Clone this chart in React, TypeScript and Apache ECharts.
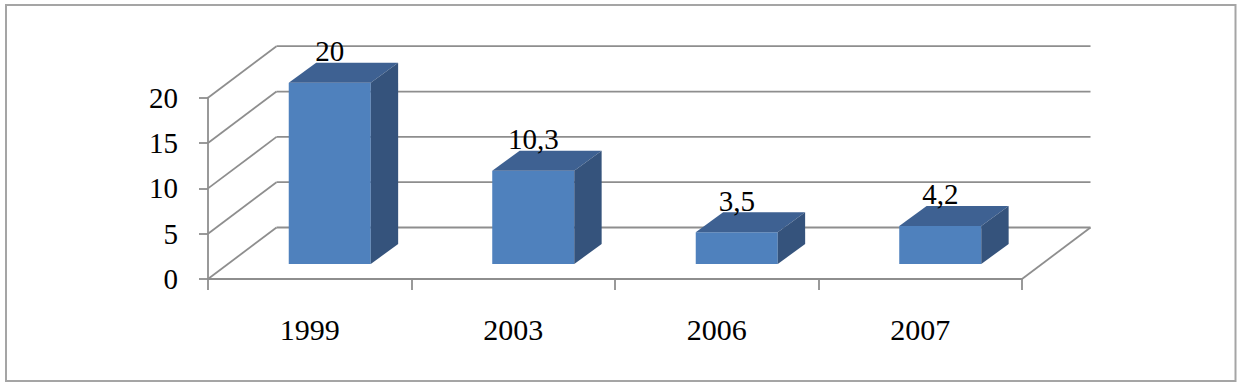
import React, { useEffect, useRef } from "react";
import * as echarts from "echarts";

const categories = ["1999", "2003", "2006", "2007"];
const values = [20, 10.3, 3.5, 4.2];
const yTicks = [0, 5, 10, 15, 20];

const FONT = "'Liberation Serif', 'DejaVu Serif', serif";
const GRID_COLOR = "#8e8e8e";
// 3D projection offsets (pixels)
const WALL_DX = 68.5;
const WALL_DY = -51.5;
const BAR_FRONT_DX = 20;
const BAR_FRONT_DY = -15;
const BAR_DEPTH_DX = 27.4;
const BAR_DEPTH_DY = -20;
const BAR_RATIO = 0.403;

const fmt = (v: number) => String(v).replace(".", ",");

export default function App() {
  const ref = useRef<HTMLDivElement>(null);
  useEffect(() => {
    if (!ref.current) return;
    const chart = echarts.init(ref.current, null, { renderer: "svg" });
    const option: any = {
      animation: false,
      backgroundColor: "#ffffff",
      grid: {
        left: 208,
        right: 222,
        top: 97.7,
        bottom: 110,
        containLabel: false,
        outerBoundsMode: "none",
      },
      graphic: [
        {
          type: "rect",
          shape: { x: 6, y: 5, width: 1229.5, height: 376 },
          style: { fill: "none", stroke: "#a5a5a5", lineWidth: 2 },
          silent: true,
          z: 0,
        },
      ],
      xAxis: {
        type: "category",
        data: categories,
        axisLine: { show: true, lineStyle: { color: GRID_COLOR, width: 1.8 } },
        axisTick: { show: true, length: 11, lineStyle: { color: GRID_COLOR, width: 1.8 } },
        axisLabel: { margin: 35, fontFamily: FONT, fontSize: 30, color: "#000" },
        splitLine: { show: false },
      },
      yAxis: {
        type: "value",
        min: 0,
        max: 20,
        interval: 5,
        axisLine: { show: true, lineStyle: { color: GRID_COLOR, width: 1.8 } },
        axisTick: { show: true, length: 9, lineStyle: { color: GRID_COLOR, width: 1.8 } },
        axisLabel: { margin: 30, fontFamily: FONT, fontSize: 29, color: "#000", padding: [8, 0, 0, 0] },
        splitLine: { show: false },
      },
      series: [
        {
          type: "custom",
          silent: true,
          clip: false,
          z: 1,
          data: yTicks.map((v) => [0, v]),
          renderItem: (params: any, api: any) => {
            const cs = params.coordSys;
            const v = api.value(1);
            const y = api.coord([0, v])[1];
            const xl = cs.x;
            const xr = cs.x + cs.width;
            const style = { stroke: GRID_COLOR, lineWidth: 1.8, fill: "none" };
            const children: any[] = [
              { type: "line", shape: { x1: xl, y1: y, x2: xl + WALL_DX, y2: y + WALL_DY }, style },
              { type: "line", shape: { x1: xl + WALL_DX, y1: y + WALL_DY, x2: xr + WALL_DX, y2: y + WALL_DY }, style },
            ];
            if (v === 0) {
              children.push({ type: "line", shape: { x1: xr, y1: y, x2: xr + WALL_DX, y2: y + WALL_DY }, style });
            }
            return { type: "group", children };
          },
        },
        {
          type: "custom",
          silent: true,
          clip: false,
          z: 3,
          data: values.map((v, i) => [i, v]),
          renderItem: (params: any, api: any) => {
            const i = api.value(0);
            const v = api.value(1);
            const base = api.coord([i, 0]);
            const top = api.coord([i, v]);
            const bw = api.size([1, 0])[0] * BAR_RATIO;
            const cx = base[0] + BAR_FRONT_DX;
            const yb = base[1] + BAR_FRONT_DY;
            const yt = top[1] + BAR_FRONT_DY;
            const x0 = cx - bw / 2;
            const x1 = cx + bw / 2;
            const dx = BAR_DEPTH_DX;
            const dy = BAR_DEPTH_DY;
            return {
              type: "group",
              children: [
                {
                  type: "polygon",
                  shape: { points: [[x0, yb], [x1, yb], [x1, yt], [x0, yt]] },
                  style: { fill: "#4F81BD" },
                },
                {
                  type: "polygon",
                  shape: { points: [[x0, yt], [x1, yt], [x1 + dx, yt + dy], [x0 + dx, yt + dy]] },
                  style: { fill: "#3E6192" },
                },
                {
                  type: "polygon",
                  shape: { points: [[x1, yb], [x1 + dx, yb + dy], [x1 + dx, yt + dy], [x1, yt]] },
                  style: { fill: "#35537C" },
                },
                {
                  type: "text",
                  style: {
                    text: fmt(v),
                    x: cx,
                    y: yt + dy + 3,
                    align: "center",
                    verticalAlign: "bottom",
                    fontFamily: FONT,
                    fontSize: 29,
                    fill: "#000",
                  },
                },
              ],
            };
          },
        },
      ],
    };
    chart.setOption(option);
    return () => chart.dispose();
  }, []);
  return (
    <div
      ref={ref}
      style={{ position: "fixed", left: 0, top: 0, width: 1244, height: 389, background: "#fff" }}
    />
  );
}
